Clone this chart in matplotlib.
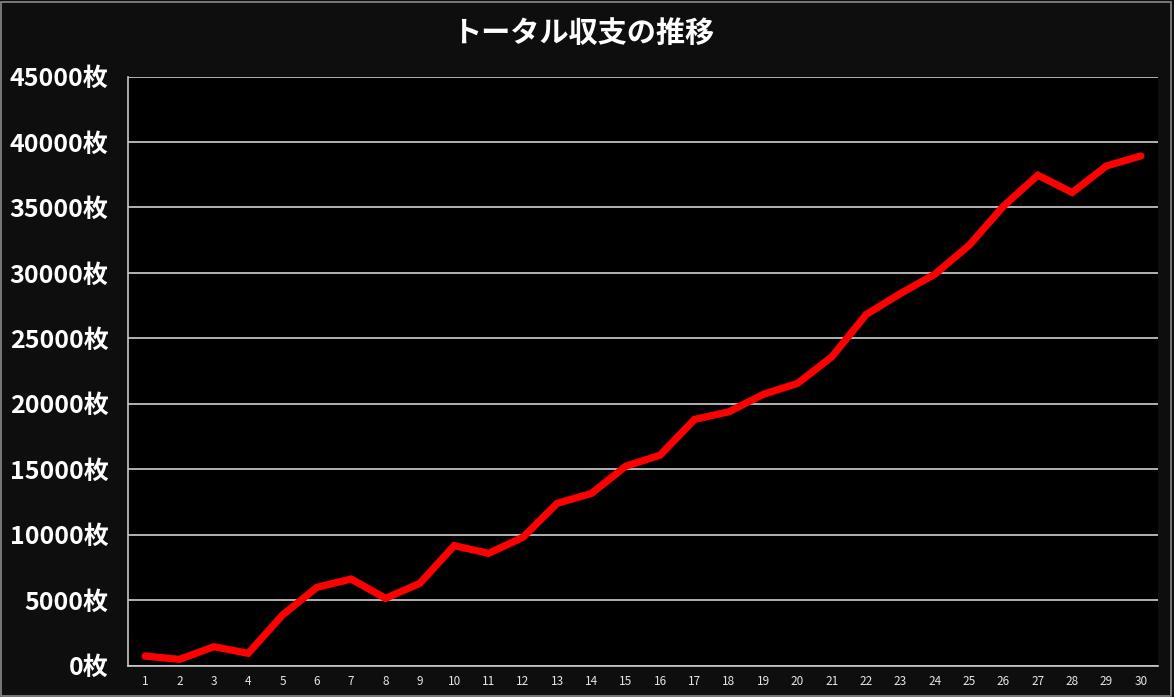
import matplotlib
matplotlib.use("Agg")
import matplotlib.pyplot as plt
from matplotlib.patches import Rectangle

plt.rcParams['font.family'] = ['Noto Sans CJK JP', 'DejaVu Sans']

title = "トータル収支の推移"
days = list(range(1, 31))
total = [735, 485, 1450, 945, 3870, 5985, 6620, 5145, 6290, 9170,
         8580, 9800, 12400, 13160, 15240, 16080, 18810, 19390, 20720, 21560,
         23590, 26820, 28430, 29900, 32110, 35100, 37460, 36140, 38170, 38930]
yticks = list(range(0, 45001, 5000))
ytick_labels = [f"{v}枚" for v in yticks]

W, H = 1174, 697
fig = plt.figure(figsize=(W / 100, H / 100), dpi=100, facecolor="#0e0e0e")
ax = fig.add_axes([128 / W, 1 - 665.7 / H, (1158 - 128) / W, (665.7 - 76.5) / H])
ax.set_facecolor("#000000")

ax.plot(days, total, color="#ff0000", linewidth=5.2, solid_capstyle="round",
        solid_joinstyle="miter", zorder=3)

ax.set_xlim(0.5, 30.5)
ax.set_ylim(0, 45000)
ax.set_yticks(yticks)
ax.set_yticklabels(ytick_labels)
ax.set_xticks(days)
ax.set_xticklabels([str(d) for d in days])

ax.yaxis.grid(True, color="#d0d0d0", linewidth=1.2, zorder=1)
ax.set_axisbelow(True)

for side in ["top", "right"]:
    ax.spines[side].set_visible(False)
for side in ["left", "bottom"]:
    ax.spines[side].set_color("#c8c8c8")
    ax.spines[side].set_linewidth(1.2)

ax.tick_params(axis="y", length=0, pad=14, labelsize=18, labelcolor="#ffffff")
for lbl in ax.get_yticklabels():
    lbl.set_fontweight("bold")
ax.tick_params(axis="x", length=0, pad=7, labelsize=8.5, labelcolor="#e6e6e6")

fig.text(0.497, 1 - 33 / H, title, color="#ffffff", fontsize=21,
         fontweight="bold", ha="center", va="center")

# outer frame
fig.patches.append(Rectangle((0.5 / W, 1.5 / H), (W - 4) / W, (H - 3) / H,
                             transform=fig.transFigure, fill=False,
                             edgecolor="#8a8a8a", linewidth=1.2))

fig.savefig("out.png", dpi=100, facecolor=fig.get_facecolor())
